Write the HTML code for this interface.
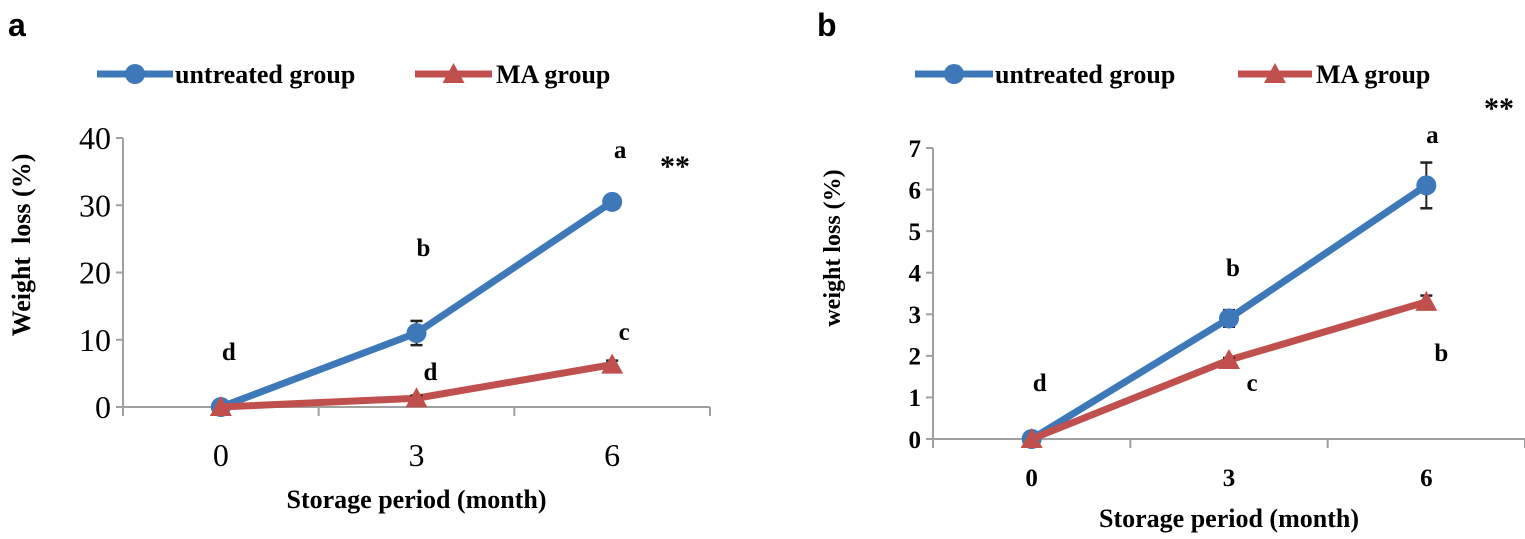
<!DOCTYPE html>
<html><head><meta charset="utf-8"><style>
body{margin:0;background:#fff;}
svg text{font-family:"Liberation Serif",serif;white-space:pre;}
</style></head><body>
<svg id="svg" width="1525" height="534" xmlns="http://www.w3.org/2000/svg">
<text x="8" y="36" font-weight="bold" font-size="32" style="font-family:'Liberation Sans',sans-serif">a</text>
<text x="817" y="36" font-weight="bold" font-size="32" style="font-family:'Liberation Sans',sans-serif">b</text>
<g id="ga"></g>
<g id="gb"></g>
</svg>
<script>
const months=["0","3","6"];
const aUntreated=[0,11,30.5];
const aUntreatedErr=[0,1.8,0.8];
const aMA=[0,1.3,6.3];
const aMAErr=[0,0.4,0.6];
const aTicks=[0,10,20,30,40];
const aLettersU=["d","b","a"];
const aLettersM=["","d","c"];
const bUntreated=[0,2.9,6.1];
const bUntreatedErr=[0,0.2,0.55];
const bMA=[0,1.9,3.3];
const bMAErr=[0,0.05,0.15];
const bTicks=[0,1,2,3,4,5,6,7];
const bLettersU=["d","b","a"];
const bLettersM=["","c","b"];
const NS="http://www.w3.org/2000/svg";
const BLUE="#3d78b8",RED="#c0504d",GREY="#a0a0a0";
function mk(p,t,at){const e=document.createElementNS(NS,t);for(const k in at)e.setAttribute(k,at[k]);p.appendChild(e);return e;}
function chart(g,o){
 const x0=o.x0,x1=o.x1,y0=o.y0,yT=o.yT,max=o.ticks[o.ticks.length-1];
 const n=o.cats.length,w=(x1-x0)/n;
 const X=i=>x0+w*(i+0.5), Y=v=>y0-(v/max)*(y0-yT);
 let ax=mk(g,'line',{x1:x0,y1:y0,x2:x0,y2:yT,stroke:GREY,'stroke-width':2});
 
 let bx=mk(g,'line',{x1:x0,y1:y0,x2:x1,y2:y0,stroke:GREY,'stroke-width':2});
 
 o.ticks.forEach(t=>{mk(g,'line',{x1:x0-7,y1:Y(t),x2:x0,y2:Y(t),stroke:GREY,'stroke-width':2});
  let tx=mk(g,'text',{x:x0-12,y:Y(t)+o.tfs*0.35,'text-anchor':'end','font-size':o.tfs,'font-weight':o.tw});tx.textContent=t;
  });
 for(let i=0;i<=n;i++)mk(g,'line',{x1:x0+w*i,y1:y0,x2:x0+w*i,y2:y0+9,stroke:GREY,'stroke-width':2});
 o.cats.forEach((c,i)=>{let tx=mk(g,'text',{x:X(i),y:o.xly,'text-anchor':'middle','font-size':o.xfs,'font-weight':o.tw});tx.textContent=c;
  });
 const series=[[o.u,o.ue,BLUE,'untreated',o.lu,o.luOff],[o.m,o.me,RED,'ma',o.lm,o.lmOff]];
 series.forEach(([v,e,col,nm,lab,off])=>{
  let pl=mk(g,'polyline',{points:v.map((d,i)=>X(i)+','+Y(d)).join(' '),fill:'none',stroke:col,'stroke-width':7,'stroke-linejoin':'round'});
  
  v.forEach((d,i)=>{
   if(e[i]>0){const a=Y(d+e[i]),b=Y(d-e[i]);mk(g,'line',{x1:X(i),y1:a,x2:X(i),y2:b,stroke:'#222','stroke-width':2});
    mk(g,'line',{x1:X(i)-6,y1:a,x2:X(i)+6,y2:a,stroke:'#222','stroke-width':2.5});mk(g,'line',{x1:X(i)-6,y1:b,x2:X(i)+6,y2:b,stroke:'#222','stroke-width':2.5});}
   let m;
   if(nm==='untreated')m=mk(g,'circle',{cx:X(i),cy:Y(d),r:10,fill:col});
   else m=mk(g,'polygon',{points:`${X(i)},${Y(d)-11} ${X(i)-11},${Y(d)+9} ${X(i)+11},${Y(d)+9}`,fill:col});
   
   if(lab[i]){let t=mk(g,'text',{x:X(i)+off[i][0],y:off[i][1],'text-anchor':'middle','font-size':25,'font-weight':'bold'});t.textContent=lab[i];
    }
  });
 });
 let st=mk(g,'text',{x:o.starX,y:o.starY,'font-size':30,'font-weight':'bold'});st.textContent='**';
 
 let xt=mk(g,'text',{x:(x0+x1)/2,y:o.xty,'text-anchor':'middle','font-size':o.xtfs,'font-weight':'bold'});xt.textContent='Storage period (month)';
 
 let yt=mk(g,'text',{x:0,y:0,transform:`translate(${o.ytx},${o.yty}) rotate(-90)`,'text-anchor':'middle','font-size':o.ytfs,'font-weight':'bold'});yt.textContent=o.ytitle;
 
 const L=o.leg;
 let l1=mk(g,'line',{x1:L[0],y1:L[4],x2:L[1],y2:L[4],stroke:BLUE,'stroke-width':7});
 mk(g,'circle',{cx:(L[0]+L[1])/2,cy:L[4],r:10,fill:BLUE});
 let t1=mk(g,'text',{x:L[1]+2,y:L[4]+9,'font-size':26,'font-weight':'bold'});t1.textContent='untreated group';
 let l2=mk(g,'line',{x1:L[2],y1:L[4],x2:L[3],y2:L[4],stroke:RED,'stroke-width':7});
 const mx=(L[2]+L[3])/2;mk(g,'polygon',{points:`${mx},${L[4]-11} ${mx-11},${L[4]+9} ${mx+11},${L[4]+9}`,fill:RED});
 let t2=mk(g,'text',{x:L[3]+4,y:L[4]+9,'font-size':26,'font-weight':'bold'});t2.textContent='MA group';
}
chart(document.getElementById('ga'),{x0:123,x1:710,y0:407,yT:138,ticks:aTicks,cats:months,u:aUntreated,ue:aUntreatedErr,m:aMA,me:aMAErr,
 tfs:32,xfs:32,tw:'normal',xly:466,xty:508,xtfs:26,ytx:30,yty:245,ytfs:26,ytitle:'Weight  loss (%)',
 lu:aLettersU,lm:aLettersM,luOff:[[8,360],[7,256],[8,158]],lmOff:[[0,0],[14,380],[12,340]],starX:660,starY:176,leg:[97,173,415,492,74]});
chart(document.getElementById('gb'),{x0:933,x1:1525,y0:439,yT:148,ticks:bTicks,cats:months,u:bUntreated,ue:bUntreatedErr,m:bMA,me:bMAErr,
 tfs:25,xfs:25,tw:'bold',xly:486,xty:527,xtfs:26,ytx:840,yty:248,ytfs:24,ytitle:'weight loss (%)',
 lu:bLettersU,lm:bLettersM,luOff:[[8,391],[4,276],[6,143]],lmOff:[[0,0],[23,391],[15,361]],starX:1484,starY:118,leg:[915,993,1238,1312,74]});
</script>
</body></html>
